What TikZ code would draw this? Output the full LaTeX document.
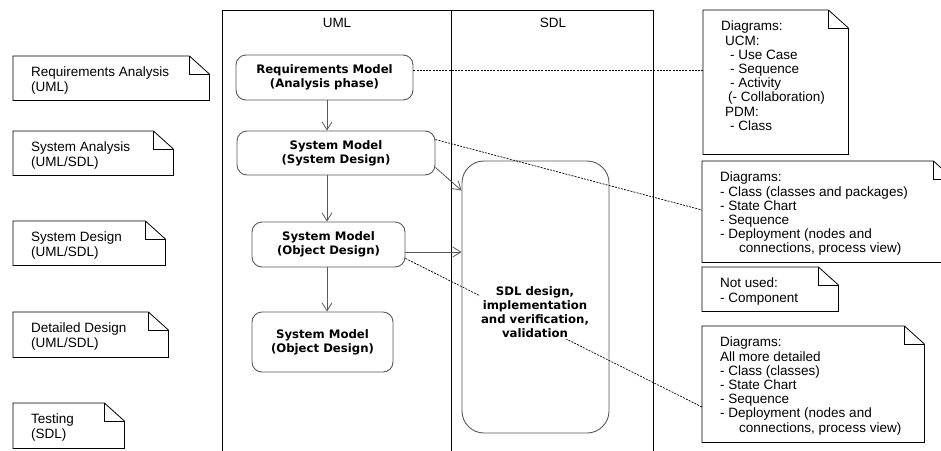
\documentclass[tikz,border=0pt]{standalone}
\usepackage{fontspec}
\setmainfont{Liberation Sans}
\newfontfamily\dejav{DejaVu Sans}
\usetikzlibrary{arrows.meta,calc}
\tikzset{
  notebox/.style={draw=none, rectangle, inner sep=0pt, anchor=north west},
  noteline/.style={draw=black, line width=0.8pt},
  notetext/.style={anchor=north west, inner sep=0pt, align=left, font=\fontsize{13.5}{14.2}\selectfont},
  model/.style={draw=gray!70!black, line width=0.9pt, rounded corners=10pt, align=center, inner sep=0pt, font=\dejav\bfseries\fontsize{11.7}{14}\selectfont},
  flow/.style={draw=gray!70!black, line width=0.8pt, -{Straight Barb[length=8pt,width=10pt]}},
  link/.style={draw=black, line width=0.7pt, dash pattern=on 2pt off 1.2pt},
  lane/.style={draw=black, line width=0.8pt},
  lanelabel/.style={font=\fontsize{13.5}{14.2}\selectfont, inner sep=0pt},
}
\newcommand\mknote[6]{%
  \node[notebox, minimum width=#4pt, minimum height=#5pt] (#1) at (#2,#3) {};
  \draw[noteline] (#1.north west) -- ([xshift=-20pt]#1.north east) -- ([yshift=-18pt]#1.north east) -- (#1.south east) -- (#1.south west) -- cycle;
  \draw[noteline] ([xshift=-20pt]#1.north east) |- ([yshift=-18pt]#1.north east);
  \node[notetext] (#1-t) at ([xshift=18pt,yshift=-11pt]#1.north west) {#6};
}
\begin{document}
\begin{tikzpicture}[x=1pt,y=-1pt]
\useasboundingbox (0,0) rectangle (941,450);
% swimlanes
\draw[lane] (222,10) rectangle (653,460);
\draw[lane] (451,10) -- (451,460);
\node[lanelabel] (umllbl) at (337,23) {UML};
\node[lanelabel] (sdllbl) at (553,23) {SDL};
% left notes
\mknote{ln1}{13}{56}{196}{44}{Requirements Analysis\\(UML)}
\mknote{ln2}{13}{131}{160}{44}{System Analysis\\(UML/SDL)}
\mknote{ln3}{13}{221}{152}{44}{System Design\\(UML/SDL)}
\mknote{ln4}{13}{312}{155}{45}{Detailed Design\\(UML/SDL)}
\mknote{ln5}{13}{403}{111}{45}{Testing\\(SDL)}
% right notes
\mknote{rn1}{703}{10}{145}{144}{Diagrams:\\\hspace*{4pt}UCM:\\\hspace*{9pt}- Use Case\\\hspace*{9pt}- Sequence\\\hspace*{9pt}- Activity\\\hspace*{7pt}(- Collaboration)\\\hspace*{4pt}PDM:\\\hspace*{9pt}- Class}
\mknote{rn2}{702}{161}{251}{101}{Diagrams:\\- Class (classes and packages)\\- State Chart\\- Sequence\\- Deployment (nodes and\\\hspace*{19pt}connections, process view)}
\mknote{rn3}{702}{267}{136}{44}{Not used:\\- Component}
\mknote{rn4}{702}{326}{222}{116}{Diagrams:\\All more detailed\\- Class (classes)\\- State Chart\\- Sequence\\- Deployment (nodes and\\\hspace*{19pt}connections, process view)}
% model nodes
\node[model, minimum width=177pt, minimum height=45pt] (req) at (324.5,77.5) {Requirements Model\\(Analysis phase)};
\node[model, minimum width=198pt, minimum height=44pt] (sysdes) at (336,153) {System Model\\(System Design)};
\node[model, minimum width=153pt, minimum height=45pt] (objdes) at (328.5,244.5) {System Model\\(Object Design)};
\node[model, minimum width=141pt, minimum height=60pt] (objdes2) at (322.5,342) {System Model\\(Object Design)};
\node[model, rounded corners=22pt, minimum width=147pt, minimum height=272pt] (sdl) at (535.5,297) {};
\coordinate (axis) at (327,0);
% dashed links
\draw[link] ([yshift=7pt]req.east) -- ([yshift=7pt]req.east -| rn1.west);
\draw[link] ([yshift=-9pt]sysdes.north east) -- ([yshift=-49pt]rn2.north west);
\draw[link] ([yshift=9pt]objdes.south east) -- ([yshift=-81pt]rn4.north west);
% SDL text over the link
\node[fill=white, inner sep=1pt, align=center, font=\dejav\bfseries\fontsize{11.7}{14}\selectfont] (sdltext) at (535,312) {SDL design,\\implementation\\and verification,\\validation};
% flow arrows
\draw[flow] (req.south -| axis) -- (sysdes.north -| axis);
\draw[flow] (sysdes.south -| axis) -- (objdes.north -| axis);
\draw[flow] (objdes.south -| axis) -- (objdes2.north -| axis);
\draw[flow] ([yshift=8pt]sysdes.south east) -- ([yshift=-30pt]sdl.north west);
\draw[flow] ([yshift=-7.5pt]objdes.east) -- ([yshift=-7.5pt]objdes.east -| sdl.west);
\end{tikzpicture}
\end{document}
